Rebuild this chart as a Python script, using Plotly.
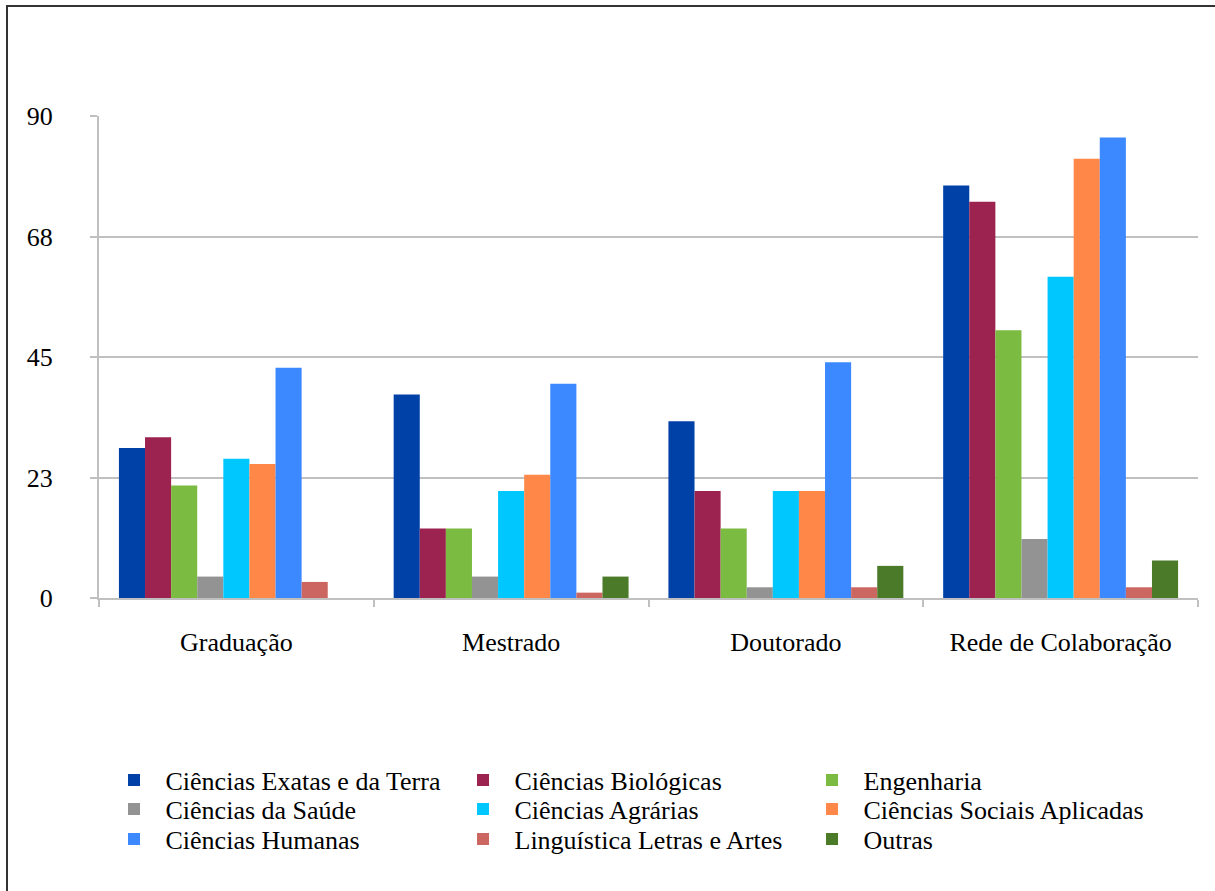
import plotly.graph_objects as go

# Categories and series
stages = ["Graduação", "Mestrado", "Doutorado", "Rede de Colaboração"]

areas = [
    "Ciências Exatas e da Terra",
    "Ciências Biológicas",
    "Engenharia",
    "Ciências da Saúde",
    "Ciências Agrárias",
    "Ciências Sociais Aplicadas",
    "Ciências Humanas",
    "Linguística Letras e Artes",
    "Outras",
]

exatas = [28, 38, 33, 77]
biologicas = [30, 13, 20, 74]
engenharia = [21, 13, 13, 50]
saude = [4, 4, 2, 11]
agrarias = [26, 20, 20, 60]
sociais = [25, 23, 20, 82]
humanas = [43, 40, 44, 86]
linguistica = [3, 1, 2, 2]
outras = [0, 4, 6, 7]

series = [exatas, biologicas, engenharia, saude, agrarias,
          sociais, humanas, linguistica, outras]

colors = ["#0041A8", "#9C224F", "#7BBB41", "#939393", "#00C8FF",
          "#FF8848", "#3C88FF", "#CC6660", "#4B7A28"]

y_tick_vals = [0, 22.5, 45, 67.5, 90]
y_tick_text = ["0", "23", "45", "68", "90"]

FONT = "Liberation Serif"
GRID = "#C0C0C0"

# legend laid out as three rows of three entries
legend_ids = ["legend", "legend2", "legend3"]

fig = go.Figure()
for i, (name, vals, col) in enumerate(zip(areas, series, colors)):
    fig.add_trace(go.Bar(
        name=name, x=stages, y=vals,
        marker=dict(color=col, line=dict(width=0)),
        legend=legend_ids[i // 3],
    ))

row_centers_px = [780, 809, 839]
plot_top, plot_bottom = 116, 598
legend_common = dict(
    orientation="h", x=0.0032, xanchor="left", yanchor="middle",
    entrywidth=281, entrywidthmode="pixels", itemwidth=53,
    font=dict(family=FONT, size=26, color="black"),
    bgcolor="rgba(0,0,0,0)", borderwidth=0, traceorder="normal",
)
legend_layout = {}
for lid, cy in zip(legend_ids, row_centers_px):
    legend_layout[lid] = dict(
        legend_common, y=-(cy - plot_bottom) / (plot_bottom - plot_top)
    )

fig.update_layout(
    width=1215, height=891,
    margin=dict(l=99, r=17, t=116, b=293),
    paper_bgcolor="white", plot_bgcolor="white",
    barmode="group", bargap=0.145, bargroupgap=0,
    font=dict(family=FONT, size=26, color="black"),
    showlegend=True,
    **legend_layout,
)

fig.update_xaxes(
    showline=True, linecolor=GRID, linewidth=2,
    ticks="outside", ticklen=7, tickcolor=GRID, tickwidth=2,
    tickson="boundaries", showgrid=False,
    tickfont=dict(family=FONT, size=26, color="black"),
    ticklabelstandoff=20,
)

fig.update_yaxes(
    range=[0, 90], tickvals=y_tick_vals, ticktext=y_tick_text,
    showline=True, linecolor=GRID, linewidth=2,
    ticks="outside", ticklen=7, tickcolor=GRID, tickwidth=2,
    showgrid=True, gridcolor=GRID, gridwidth=2,
    zeroline=False,
    tickfont=dict(family=FONT, size=26, color="black"),
    ticklabelstandoff=32,
)

# Outer frame (top and left edges visible on the page)
fig.add_shape(
    type="rect", xref="paper", yref="paper",
    x0=(7 - 99) / 1099, x1=1.2,
    y0=(598 - 6) / 482, y1=-0.8,
    line=dict(color="#333333", width=2), fillcolor="rgba(0,0,0,0)",
    layer="below",
)

fig.write_html("out.html")
